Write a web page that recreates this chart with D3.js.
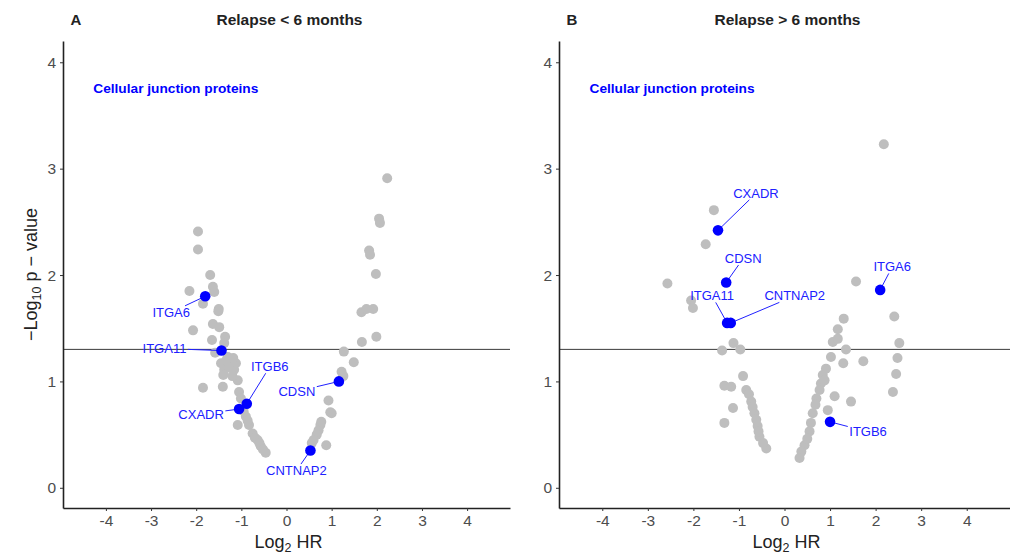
<!DOCTYPE html>
<html>
<head>
<meta charset="utf-8">
<script src="https://d3js.org/d3.v7.min.js"></script>
<style>
  body { margin: 0; background: #fff; }
  svg { display: block; font-family: 'Liberation Sans', Arial, sans-serif; }
</style>
</head>
<body>
<svg id="chart" width="1010" height="554"></svg>
<script>
// Relapse < 6 months: all proteins (log2 HR, -log10 p)
const earlyLogHR = [
  -1.96, -1.96, -1.69, -2.15, -1.63, -1.60, -1.85, -1.50, -1.51, -1.63, -2.07, -1.49,
  -1.36, -1.65, -1.38, -1.58, -1.30, -1.45, -1.23, -1.38, -1.16, -1.08, -1.85, -1.41,
  -1.05, -1.01, -0.90, -1.08, -0.83, -0.75, -0.64, -0.57, -0.46, -1.33, -1.20, -1.12,
  -0.95, -0.86, -0.70, -0.60, -0.52, -1.27, -1.18, -1.40,
  2.23, 2.05, 2.07, 1.83, 1.85, 1.98, 1.66, 1.77, 1.92, 1.99, 1.67, 1.27,
  1.49, 1.22, 1.26, 0.93, 0.97, 1.00, 0.75, 0.71, 0.67, 0.60, 0.88, 0.56, 0.77
]
const earlyLogP = [
  2.41, 2.24, 2.00, 1.85, 1.89, 1.84, 1.73, 1.68, 1.66, 1.54, 1.48, 1.51,
  1.42, 1.39, 1.36, 1.27, 1.23, 1.17, 1.15, 1.11, 1.11, 1.01, 0.94, 0.95,
  0.90, 0.84, 0.67, 0.59, 0.59, 0.51, 0.45, 0.39, 0.33, 1.20, 1.05, 1.17,
  0.72, 0.63, 0.47, 0.42, 0.36, 1.13, 1.22, 1.06,
  2.91, 2.53, 2.49, 2.23, 2.19, 2.01, 1.65, 1.68, 1.68, 1.42, 1.37, 1.28,
  1.18, 1.09, 1.05, 0.82, 0.71, 0.70, 0.59, 0.54, 0.50, 0.45, 0.40, 0.42, 0.62
]

// Relapse > 6 months: all proteins
const lateLogHR = [
  -1.55, -1.73, -2.57, -2.05, -2.01, -1.12, -1.37, -0.97, -0.91, -1.32, -1.17, -0.84,
  -0.78, -0.73, -1.13, -0.66, -1.32, -0.59, -0.55, -0.40, -0.70, -0.62, -0.57, -0.47,
  2.18, 1.57, 2.41, 1.30, 1.17, 1.06, 1.17, 1.35, 2.52, 1.02, 2.48, 1.29,
  1.73, 0.91, 0.84, 2.45, 0.80, 0.77, 1.10, 2.38, 0.70, 1.46, 0.95, 0.62,
  0.58, 0.55, 0.44, 0.37, 0.33, 0.50, 0.68, 0.88
]
const lateLogP = [
  2.61, 2.29, 1.92, 1.76, 1.69, 1.36, 1.29, 1.30, 1.05, 0.96, 0.95, 0.92,
  0.88, 0.81, 0.75, 0.70, 0.61, 0.58, 0.48, 0.37, 0.76, 0.64, 0.53, 0.42,
  3.23, 1.94, 1.61, 1.59, 1.49, 1.37, 1.40, 1.30, 1.36, 1.23, 1.22, 1.17,
  1.19, 1.12, 1.06, 1.07, 0.98, 0.92, 0.86, 0.90, 0.84, 0.81, 0.73, 0.70,
  0.61, 0.53, 0.40, 0.34, 0.28, 0.46, 0.78, 1.01
]

// Cellular junction proteins highlighted in both panels
const genes = ['CXADR', 'CDSN', 'ITGA11', 'CNTNAP2', 'ITGA6', 'ITGB6']
const earlyGeneHR = [-1.05, 1.16, -1.44, 0.53, -1.80, -0.88]
const earlyGeneP = [0.74, 1.00, 1.29, 0.35, 1.80, 0.79]
const lateGeneHR = [-1.46, -1.28, -1.26, -1.18, 2.10, 1.00]
const lateGeneP = [2.42, 1.93, 1.55, 1.55, 1.86, 0.62]

const xTicks = [-4, -3, -2, -1, 0, 1, 2, 3, 4]
const yTicks = [0, 1, 2, 3, 4]
const pThreshold = -Math.log10(0.05)

const svg = d3.select('#chart')

// label offsets (px) from each highlighted point, as placed by the repel in the figure
const labelOffsetsA = {
  CXADR: [-38, 5], CDSN: [-42, 10], ITGA11: [-57, -2], CNTNAP2: [-14, 20], ITGA6: [-34, 16], ITGB6: [23, -37]
}
const labelOffsetsB = {
  CXADR: [38, -37], CDSN: [17, -24], ITGA11: [-15, -27], CNTNAP2: [64, -27], ITGA6: [12, -23], ITGB6: [38, 10]
}

function drawPanel (opts) {
  const { left, right, letter, title, hr, p, geneHR, geneP, offsets, yTitle } = opts
  const top = 41
  const bottom = 508

  const x = d3.scaleLinear().domain([-4.95, 4.95]).range([left, right])
  const y = d3.scaleLinear().domain([-0.19, 4.2]).range([bottom, top])

  const g = svg.append('g')

  // significance line
  g.append('line')
    .attr('x1', left).attr('x2', right)
    .attr('y1', y(pThreshold)).attr('y2', y(pThreshold))
    .attr('stroke', '#3a3a3a')
    .attr('stroke-width', 1)

  // all proteins
  g.append('g')
    .selectAll('circle')
    .data(d3.range(hr.length))
    .join('circle')
    .attr('cx', (i) => x(hr[i]))
    .attr('cy', (i) => y(p[i]))
    .attr('r', 5)
    .attr('fill', '#bebebe')

  // axes
  const xAxis = g.append('g')
    .attr('transform', `translate(0,${bottom})`)
    .call(d3.axisBottom(x).tickValues(xTicks).tickFormat((d) => String(d)).tickSize(3).tickSizeOuter(0).tickPadding(4))
  const yAxis = g.append('g')
    .attr('transform', `translate(${left},0)`)
    .call(d3.axisLeft(y).tickValues(yTicks).tickFormat((d) => String(d)).tickSize(3).tickSizeOuter(0).tickPadding(4))

  for (const ax of [xAxis, yAxis]) {
    ax.select('.domain').attr('stroke', '#222').attr('stroke-width', 1.6)
    ax.selectAll('.tick line').attr('stroke', '#333')
    ax.selectAll('.tick text')
      .attr('fill', '#4d4d4d')
      .attr('font-size', 15.5)
      .attr('font-family', "'Liberation Sans', Arial, sans-serif")
  }

  // highlighted genes: segments, points, labels
  const labels = genes.map((name, i) => {
    const px = x(geneHR[i])
    const py = y(geneP[i])
    const [dx, dy] = offsets[name]
    return { name, px, py, lx: px + dx, ly: py + dy }
  })

  const segLayer = g.append('g')
  g.append('g')
    .selectAll('circle')
    .data(labels)
    .join('circle')
    .attr('cx', (d) => d.px)
    .attr('cy', (d) => d.py)
    .attr('r', 5.3)
    .attr('fill', '#0000ff')

  const texts = g.append('g')
    .selectAll('text')
    .data(labels)
    .join('text')
    .attr('x', (d) => d.lx)
    .attr('y', (d) => d.ly)
    .attr('text-anchor', 'middle')
    .attr('dominant-baseline', 'central')
    .attr('font-size', 13)
    .attr('fill', '#2020ff')
    .text((d) => d.name)

  texts.each(function (d) {
    const b = this.getBBox()
    const hw = b.width / 2 + 1.5
    const hh = b.height / 2 - 1
    const vx = d.px - d.lx
    const vy = d.py - d.ly
    const t = Math.min(Math.abs(vx) > 0 ? hw / Math.abs(vx) : Infinity, Math.abs(vy) > 0 ? hh / Math.abs(vy) : Infinity)
    if (t >= 1) return
    segLayer.append('line')
      .attr('x1', d.lx + vx * t).attr('y1', d.ly + vy * t)
      .attr('x2', d.px).attr('y2', d.py)
      .attr('stroke', '#2020ff')
      .attr('stroke-width', 1)
  })

  // annotation
  g.append('text')
    .attr('x', x(-4.28))
    .attr('y', y(3.75))
    .attr('dominant-baseline', 'central')
    .attr('font-size', 13.7)
    .attr('font-weight', 'bold')
    .attr('fill', '#0000ff')
    .text('Cellular junction proteins')

  // panel letter and title
  g.append('text')
    .attr('x', left + 13)
    .attr('y', 25)
    .attr('text-anchor', 'middle')
    .attr('font-size', 15)
    .attr('font-weight', 'bold')
    .attr('fill', '#222')
    .text(letter)
  g.append('text')
    .attr('x', (left + right) / 2 + 3)
    .attr('y', 25)
    .attr('text-anchor', 'middle')
    .attr('font-size', 15.5)
    .attr('font-weight', 'bold')
    .attr('fill', '#222')
    .text(title)

  // x title
  const xt = g.append('text')
    .attr('x', x(0) + 2)
    .attr('y', 548)
    .attr('text-anchor', 'middle')
    .attr('font-size', 18)
    .attr('fill', '#222')
  xt.append('tspan').text('Log')
  xt.append('tspan').attr('font-size', 12.5).attr('dy', 4).text('2')
  xt.append('tspan').attr('dy', -4).text(' HR')

  if (yTitle) {
    const yt = g.append('text')
      .attr('transform', `translate(37,${(top + bottom) / 2}) rotate(-90)`)
      .attr('text-anchor', 'middle')
      .attr('font-size', 18)
      .attr('fill', '#222')
    yt.append('tspan').text('\u2212Log')
    yt.append('tspan').attr('font-size', 12.5).attr('dy', 4).text('10')
    yt.append('tspan').attr('dy', -4).text(' p \u2212 value')
  }
}

drawPanel({
  left: 63, right: 510, letter: 'A', title: 'Relapse < 6 months',
  hr: earlyLogHR, p: earlyLogP, geneHR: earlyGeneHR, geneP: earlyGeneP,
  offsets: labelOffsetsA, yTitle: true
})
drawPanel({
  left: 559, right: 1010, letter: 'B', title: 'Relapse > 6 months',
  hr: lateLogHR, p: lateLogP, geneHR: lateGeneHR, geneP: lateGeneP,
  offsets: labelOffsetsB, yTitle: false
})
</script>
</body>
</html>
